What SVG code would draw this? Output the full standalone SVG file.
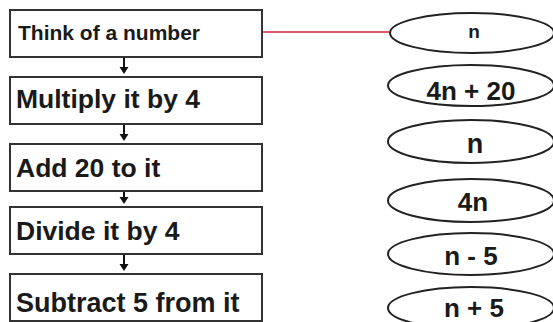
<svg xmlns="http://www.w3.org/2000/svg" width="553" height="322" viewBox="0 0 553 322">
<style>
.box{fill:#fff;stroke:#333;stroke-width:2}
.ell{fill:#fff;stroke:#222;stroke-width:2}
.t{font-family:"Liberation Sans",Arial,sans-serif;font-weight:bold;fill:#1a1a1a}
.c{text-anchor:middle}
.arr{stroke:#111;stroke-width:2;fill:none}
.head{fill:#111}
</style>
<rect width="553" height="322" fill="#fff"/>
<g id="connectors">
<line x1="262" y1="32" x2="389" y2="32" stroke="#cc2233" stroke-width="1.6"/>
<line class="arr" x1="124" y1="57" x2="124" y2="69"/><polygon class="head" points="119.5,67 128.5,67 124,74"/>
<line class="arr" x1="124" y1="124" x2="124" y2="136"/><polygon class="head" points="119.5,134 128.5,134 124,141"/>
<line class="arr" x1="124" y1="191" x2="124" y2="199"/><polygon class="head" points="119.5,197 128.5,197 124,204"/>
<line class="arr" x1="124" y1="254" x2="124" y2="266"/><polygon class="head" points="119.5,264 128.5,264 124,271"/>
</g>
<g id="step1"><rect class="box" x="10" y="10" width="252" height="47"/><text class="t" x="18" y="40" font-size="21">Think of a number</text></g>
<g id="step2"><rect class="box" x="10" y="77" width="252" height="47"/><text class="t" x="16" y="108" font-size="26.5">Multiply it by 4</text></g>
<g id="step3"><rect class="box" x="10" y="144" width="252" height="47"/><text class="t" x="16" y="177" font-size="26.5">Add 20 to it</text></g>
<g id="step4"><rect class="box" x="10" y="207" width="252" height="47"/><text class="t" x="16" y="240" font-size="26.5">Divide it by 4</text></g>
<g id="step5"><rect class="box" x="10" y="274" width="252" height="47"/><text class="t" x="16" y="312" font-size="27">Subtract 5 from it</text></g>
<g id="e1"><ellipse class="ell" cx="472" cy="33" rx="82" ry="20"/><text class="t c" x="474" y="38" font-size="19">n</text></g>
<g id="e2"><ellipse class="ell" cx="471" cy="85.5" rx="83" ry="20.5"/><text class="t c" x="471" y="100" font-size="26">4n + 20</text></g>
<g id="e3"><ellipse class="ell" cx="471" cy="141.5" rx="83" ry="21.5"/><text class="t c" x="475" y="153" font-size="27">n</text></g>
<g id="e4"><ellipse class="ell" cx="471" cy="200.5" rx="83" ry="21.5"/><text class="t c" x="473" y="211" font-size="26">4n</text></g>
<g id="e5"><ellipse class="ell" cx="471" cy="254" rx="83" ry="21"/><text class="t c" x="471" y="265" font-size="26">n - 5</text></g>
<g id="e6"><ellipse class="ell" cx="471" cy="308" rx="83" ry="21"/><text class="t c" x="474" y="317" font-size="26">n + 5</text></g>
</svg>
